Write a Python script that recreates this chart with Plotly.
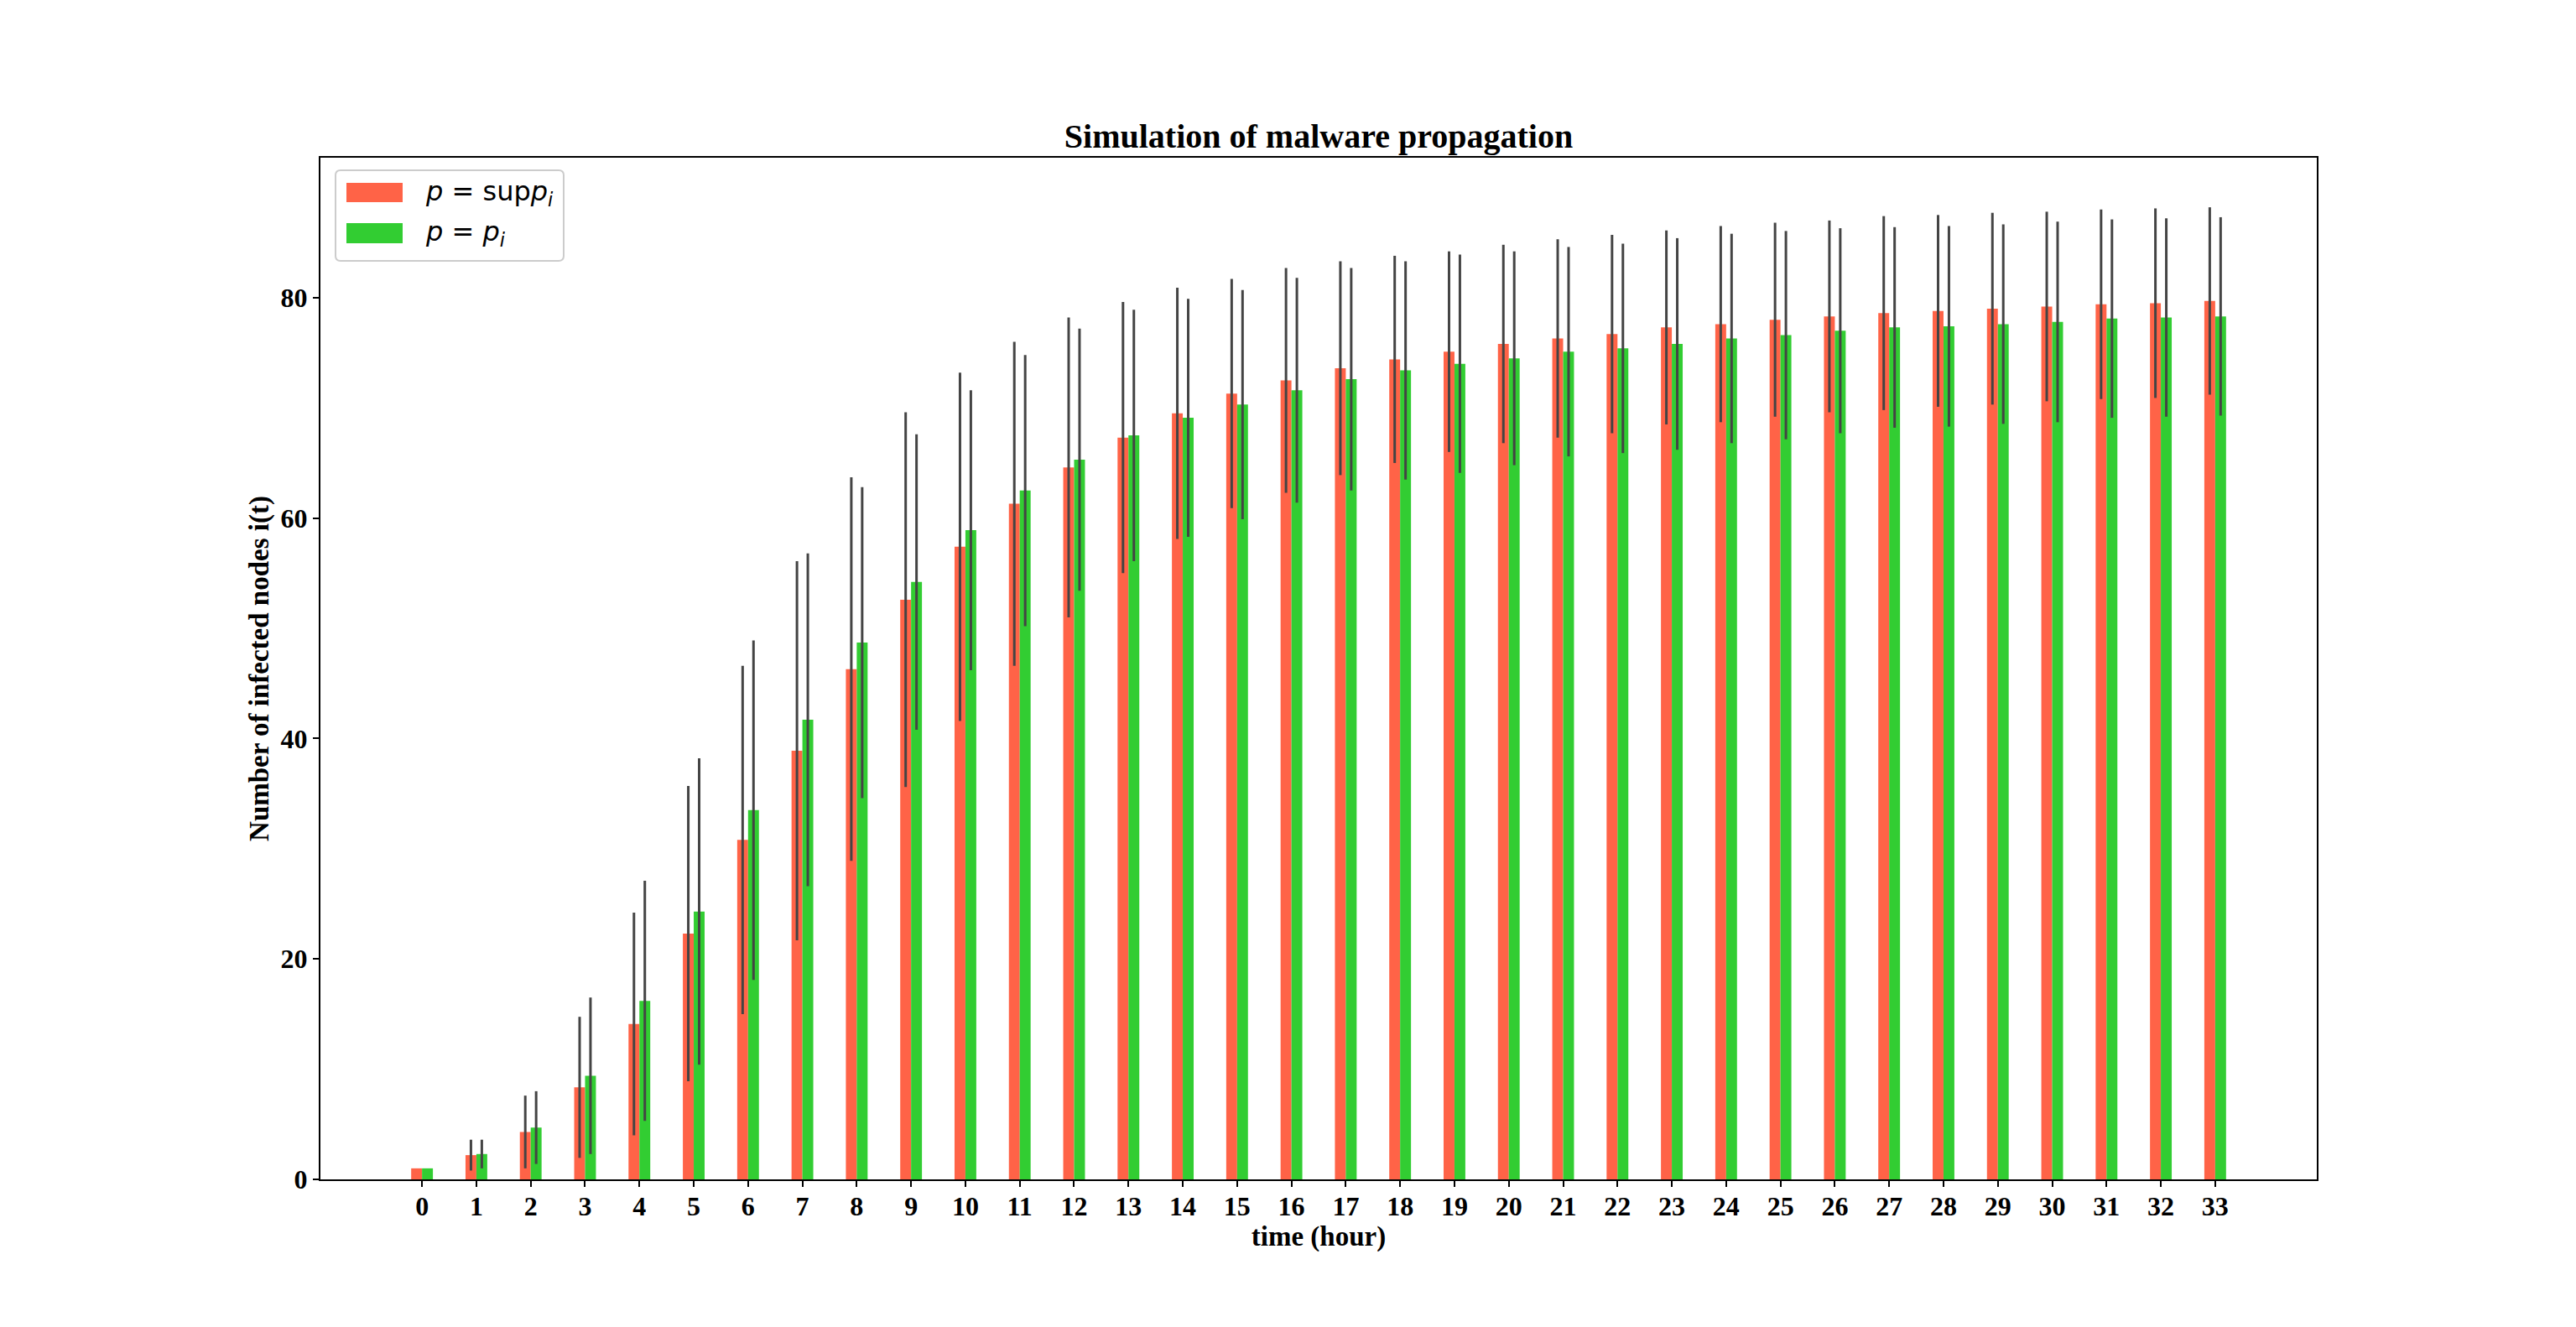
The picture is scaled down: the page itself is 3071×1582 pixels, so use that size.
import plotly.graph_objects as go

# ---------------- data ----------------
hours = list(range(34))
tick_labels = [str(h) for h in hours]

sup_mean = [1.0, 2.2, 4.3, 8.35, 14.1, 22.3, 30.8, 38.9, 46.3, 52.6, 57.4, 61.3,
            64.6, 67.3, 69.5, 71.3, 72.5, 73.6, 74.4, 75.1, 75.8, 76.3, 76.7,
            77.3, 77.6, 78.0, 78.3, 78.6, 78.8, 79.0, 79.2, 79.4, 79.5, 79.7]
sup_std = [0.0, 1.4, 3.3, 6.4, 10.1, 13.4, 15.8, 17.2, 17.4, 17.0, 15.8, 14.7,
           13.6, 12.3, 11.4, 10.4, 10.2, 9.7, 9.4, 9.1, 9.0, 9.0, 9.0,
           8.8, 8.9, 8.8, 8.7, 8.8, 8.7, 8.7, 8.6, 8.6, 8.6, 8.5]

pi_mean = [1.0, 2.3, 4.7, 9.4, 16.2, 24.3, 33.5, 41.7, 48.7, 54.2, 58.9, 62.5,
           65.3, 67.5, 69.1, 70.3, 71.6, 72.6, 73.4, 74.0, 74.5, 75.1, 75.4,
           75.8, 76.3, 76.6, 77.0, 77.3, 77.4, 77.6, 77.8, 78.1, 78.2, 78.3]
pi_std = [0.0, 1.3, 3.3, 7.1, 10.9, 13.9, 15.4, 15.1, 14.1, 13.4, 12.7, 12.3,
          11.9, 11.4, 10.8, 10.4, 10.2, 10.1, 9.9, 9.9, 9.7, 9.5, 9.5,
          9.6, 9.5, 9.45, 9.3, 9.1, 9.1, 9.05, 9.1, 9.0, 9.0, 9.0]

series_names = ["<i>p</i> = sup<i>p</i><sub><i>i</i></sub>",
                "<i>p</i> = <i>p</i><sub><i>i</i></sub>"]
series_colors = ["#FF6347", "#32CD32"]

# ---------------- layout geometry ----------------
W, H = 3071, 1582
L, R, T, B = 382, 2762, 188, 1406
SERIF = "Liberation Serif"
ERR_COLOR = "#444444"


def px2paper(px, py):
    return (px - L) / (R - L), (B - py) / (B - T)


fig = go.Figure()
for mean, std, name, color in [(sup_mean, sup_std, series_names[0], series_colors[0]),
                               (pi_mean, pi_std, series_names[1], series_colors[1])]:
    fig.add_trace(go.Bar(
        x=hours, y=mean, name=name, showlegend=False,
        marker=dict(color=color, line=dict(width=0)),
        error_y=dict(type="data", array=std, visible=True, color=ERR_COLOR,
                     thickness=3, width=0),
    ))

axis_common = dict(
    showline=True, mirror=True, linecolor="black", linewidth=2,
    ticks="outside", ticklen=7, tickwidth=2, tickcolor="black",
    showgrid=False, zeroline=False,
    tickfont=dict(family=SERIF, size=32, color="black", weight="bold"),
)

fig.update_layout(
    width=W, height=H, autosize=False,
    margin=dict(l=L, r=W - R, t=T, b=H - B, pad=0),
    barmode="group", bargap=0.6, bargroupgap=0,
    plot_bgcolor="white", paper_bgcolor="white",
    title=dict(text="<b>Simulation of malware propagation</b>",
               font=dict(family=SERIF, size=40, color="black"),
               x=0.5, xref="paper", xanchor="center",
               y=1, yref="paper", yanchor="bottom", pad=dict(b=12)),
    xaxis=dict(range=[-1.87, 34.87], tickmode="array", tickvals=hours,
               ticktext=tick_labels, ticklabelstandoff=-4,
               title=dict(text="<b>time (hour)</b>", standoff=0,
                          font=dict(family=SERIF, size=33, color="black")),
               **axis_common),
    yaxis=dict(range=[0, 92.7], tickmode="array", tickvals=[0, 20, 40, 60, 80],
               title=dict(text="<b>Number of infected nodes i(t)</b>", standoff=4,
                          font=dict(family=SERIF, size=33, color="black")),
               **axis_common),
)

# ---------------- legend (drawn manually to match the patch style) ----------------
bx0, by0, bx1, by1, rad = 400, 203, 672, 311, 6


def P(px, py):
    x, y = px2paper(px, py)
    return f"{x:.6f},{y:.6f}"


path = (f"M {P(bx0 + rad, by0)} L {P(bx1 - rad, by0)} Q {P(bx1, by0)} {P(bx1, by0 + rad)} "
        f"L {P(bx1, by1 - rad)} Q {P(bx1, by1)} {P(bx1 - rad, by1)} "
        f"L {P(bx0 + rad, by1)} Q {P(bx0, by1)} {P(bx0, by1 - rad)} "
        f"L {P(bx0, by0 + rad)} Q {P(bx0, by0)} {P(bx0 + rad, by0)} Z")
fig.add_shape(type="path", path=path, xref="paper", yref="paper",
              line=dict(color="#cccccc", width=2), fillcolor="rgba(255,255,255,0.8)")

patch_rows = [(218, 241), (266, 290)]
for (py0, py1), name, color in zip(patch_rows, series_names, series_colors):
    x0, y0 = px2paper(413, py1)
    x1, y1 = px2paper(480, py0)
    fig.add_shape(type="rect", xref="paper", yref="paper", x0=x0, y0=y0, x1=x1, y1=y1,
                  line=dict(width=0), fillcolor=color)
    tx, ty = px2paper(505, (py0 + py1) / 2)
    fig.add_annotation(x=tx, y=ty, xref="paper", yref="paper", text=name,
                       showarrow=False, xanchor="left", yanchor="middle",
                       font=dict(family="DejaVu Sans", size=32, color="black"))

fig.write_html("out.html")
